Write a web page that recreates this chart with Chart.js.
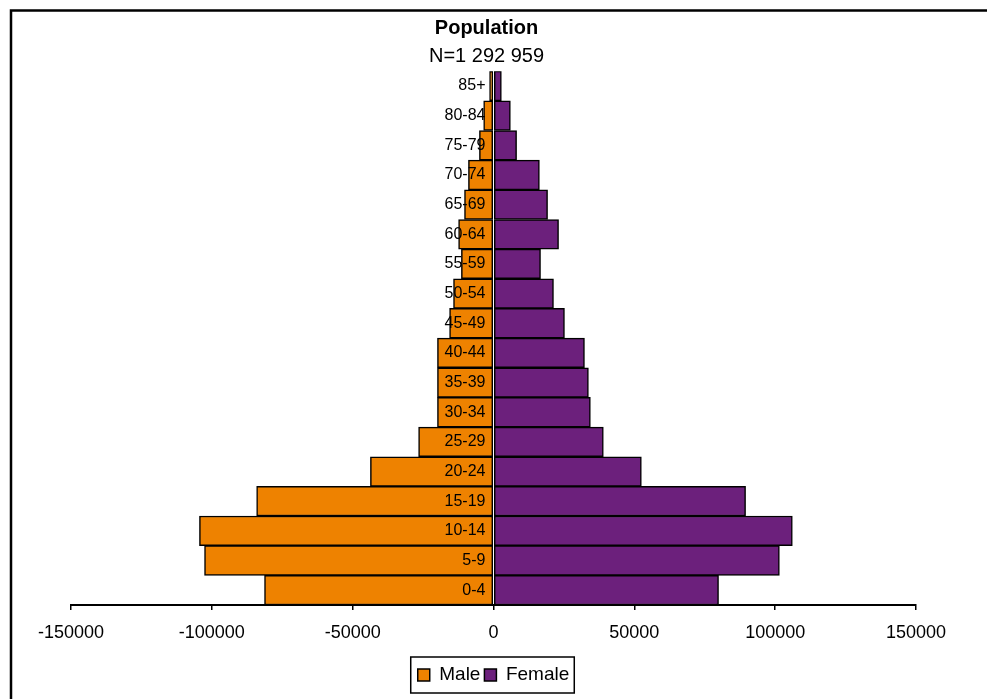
<!DOCTYPE html>
<html>
<head>
<meta charset="utf-8">
<script src="https://cdn.jsdelivr.net/npm/chart.js@4"></script>
<style>
  html, body { margin: 0; padding: 0; background: #fff; }
  #wrap { position: relative; width: 987px; height: 699px; overflow: hidden; }
  canvas { display: block; }
</style>
</head>
<body>
<div id="wrap"><canvas id="c" width="987" height="699"></canvas></div>
<script>
// ---- Data ----
const ageGroups = ['0-4','5-9','10-14','15-19','20-24','25-29','30-34','35-39','40-44','45-49','50-54','55-59','60-64','65-69','70-74','75-79','80-84','85+'];
const maleValues = [-81300,-102600,-104400,-84100,-43700,-26600,-19900,-19900,-19900,-15600,-14200,-11400,-12400,-10300,-8900,-5000,-3500,-1400];
const femaleValues = [79900,101500,106100,89500,52500,39000,34400,33700,32300,25200,21300,16700,23100,19200,16300,8200,6000,2800];
const seriesNames = ['Male','Female'];
const xTicks = [-150000,-100000,-50000,0,50000,100000,150000];
const titleText = 'Population';
const subtitleText = 'N=1 292 959';

const FONT = '"Liberation Sans", Arial, Helvetica, sans-serif';
const ORANGE = 'rgb(238,130,0)';
const PURPLE = 'rgb(108,32,124)';

const framePlugin = {
  id: 'frame',
  beforeDraw(chart) {
    const ctx = chart.ctx;
    ctx.save();
    ctx.fillStyle = '#fff';
    ctx.fillRect(0, 0, chart.width, chart.height);
    ctx.strokeStyle = '#000';
    ctx.lineWidth = 2.5;
    ctx.beginPath();
    ctx.moveTo(11, chart.height + 5);
    ctx.lineTo(11, 10.5);
    ctx.lineTo(chart.width + 5, 10.5);
    ctx.stroke();
    // title + subtitle
    ctx.fillStyle = '#000';
    ctx.textAlign = 'center';
    ctx.textBaseline = 'middle';
    ctx.font = 'bold 20px ' + FONT;
    ctx.fillText(titleText, 486.5, 28);
    ctx.font = '20px ' + FONT;
    ctx.fillText(subtitleText, 486.5, 56);
    ctx.restore();
  },
  afterDraw(chart) {
    const lg = chart.legend;
    if (!lg || !lg.legendHitBoxes || !lg.legendHitBoxes.length) return;
    const hb = lg.legendHitBoxes;
    const first = hb[0], last = hb[hb.length - 1];
    const left = first.left - 7;
    const right = last.left + last.width + 5;
    const cy = first.top + first.height / 2;
    const ctx = chart.ctx;
    ctx.save();
    ctx.strokeStyle = '#000';
    ctx.lineWidth = 1.5;
    ctx.strokeRect(left, cy - 18, right - left, 36);
    ctx.restore();
  }
};

new Chart(document.getElementById('c'), {
  type: 'bar',
  data: {
    labels: ageGroups,
    datasets: [
      { label: seriesNames[0], data: maleValues, backgroundColor: ORANGE, borderColor: '#000', borderWidth: 1.5, borderSkipped: false },
      { label: seriesNames[1], data: femaleValues, backgroundColor: PURPLE, borderColor: '#000', borderWidth: 1.5, borderSkipped: false }
    ]
  },
  options: {
    indexAxis: 'y',
    responsive: false,
    animation: false,
    devicePixelRatio: 1,
    barPercentage: 1,
    categoryPercentage: 1,
    layout: { padding: { left: 71, right: 71, top: 71.2, bottom: 4.5 } },
    scales: {
      x: {
        type: 'linear',
        min: -150000,
        max: 150000,
        stacked: true,
        afterBuildTicks(scale) { scale.ticks = xTicks.map(v => ({ value: v })); },
        afterFit(scale) { scale.height = 56.5; },
        ticks: {
          color: '#000',
          font: { family: FONT, size: 18 },
          padding: 12,
          maxRotation: 0,
          autoSkip: false,
          callback: v => String(v)
        },
        grid: { display: true, drawOnChartArea: false, drawTicks: true, tickLength: 5, color: '#000', lineWidth: 1.5 },
        border: { display: true, color: '#000', width: 2 }
      },
      y: {
        type: 'category',
        reverse: true,
        stacked: true,
        position: { x: -2850 },
        ticks: {
          color: '#000',
          font: { family: FONT, size: 16 },
          padding: 0,
          autoSkip: false,
          z: 2
        },
        grid: { display: false, drawTicks: false },
        border: { display: false }
      }
    },
    plugins: {
      title: { display: false },
      subtitle: { display: false },
      legend: {
        display: true,
        position: 'bottom',
        labels: {
          color: '#000',
          font: { family: FONT, size: 19 },
          boxWidth: 12,
          boxHeight: 12,
          padding: 4
        }
      },
      tooltip: { enabled: false }
    }
  },
  plugins: [framePlugin]
});
</script>
</body>
</html>
